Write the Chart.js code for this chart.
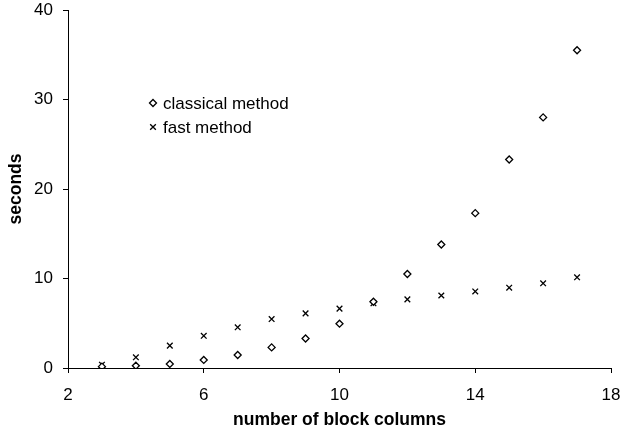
<!DOCTYPE html>
<html>
<head>
<meta charset="utf-8">
<script src="https://cdn.jsdelivr.net/npm/chart.js@4/dist/chart.umd.min.js"></script>
<style>
  html, body { margin: 0; padding: 0; background: #fff; }
  #wrap { width: 620px; height: 432px; }
</style>
</head>
<body>
<div id="wrap"><canvas id="chart" width="620" height="432"></canvas></div>
<script>
// block columns on the x axis
const blockColumns = [3, 4, 5, 6, 7, 8, 9, 10, 11, 12, 13, 14, 15, 16, 17];
// seconds
const classicalSeconds = [0.15, 0.26, 0.45, 0.9, 1.45, 2.3, 3.3, 4.95, 7.4, 10.5, 13.8, 17.3, 23.3, 28.0, 35.5];
const fastSeconds = [0.37, 1.2, 2.5, 3.6, 4.55, 5.47, 6.1, 6.63, 7.23, 7.67, 8.1, 8.55, 8.97, 9.46, 10.13];
const seriesLabels = ['classical method', 'fast method'];
const xTicks = [2, 6, 10, 14, 18];
const yTicks = [0, 10, 20, 30, 40];

const fontFamily = '"Liberation Sans", Arial, sans-serif';

function toPoints(xs, ys) {
  return xs.map((x, i) => ({ x: x, y: ys[i] }));
}

// legend sits inside the plot, like the original
const innerLegend = {
  id: 'innerLegend',
  afterDraw(chart) {
    const ctx = chart.ctx;
    const items = [
      { style: 'rectRot', radius: 3.5, y: 103 },
      { style: 'crossRot', radius: 4, y: 127 },
    ];
    ctx.save();
    ctx.font = '17px ' + fontFamily;
    ctx.textBaseline = 'middle';
    items.forEach((it, i) => {
      ctx.strokeStyle = '#000';
      ctx.fillStyle = '#fff';
      ctx.lineWidth = 1.3;
      Chart.helpers.drawPoint(ctx, { pointStyle: it.style, radius: it.radius, borderWidth: 1.3 }, 153, it.y);
      ctx.fillStyle = '#000';
      ctx.fillText(seriesLabels[i], 163, it.y + 1);
    });
    ctx.restore();
  }
};

new Chart(document.getElementById('chart'), {
  type: 'scatter',
  data: {
    datasets: [
      {
        label: seriesLabels[0],
        data: toPoints(blockColumns, classicalSeconds),
        pointStyle: 'rectRot',
        pointRadius: 3.5,
        borderColor: '#000',
        backgroundColor: '#fff',
        borderWidth: 1.3,
      },
      {
        label: seriesLabels[1],
        data: toPoints(blockColumns, fastSeconds),
        pointStyle: 'crossRot',
        pointRadius: 4,
        borderColor: '#000',
        backgroundColor: '#000',
        borderWidth: 1.3,
      },
    ],
  },
  options: {
    responsive: false,
    animation: false,
    layout: { padding: { top: 10, right: 9, left: 6, bottom: 0 } },
    plugins: {
      legend: { display: false },
      tooltip: { enabled: false },
    },
    scales: {
      x: {
        type: 'linear',
        min: 2,
        max: 18,
        afterBuildTicks(scale) { scale.ticks = xTicks.map(v => ({ value: v })); },
        afterFit(scale) {
          scale.height = 64;
          scale.paddingLeft = 0;
          scale.paddingRight = 0;
        },
        border: { color: '#000', width: 1 },
        grid: { drawOnChartArea: false, drawTicks: true, tickLength: 5, color: '#000' },
        ticks: { color: '#000', padding: 12, font: { family: fontFamily, size: 17 } },
        title: {
          display: true,
          text: 'number of block columns',
          color: '#000',
          font: { family: fontFamily, size: 17.5, weight: 'bold' },
          padding: { top: 4, bottom: 1.5 },
        },
      },
      y: {
        min: 0,
        max: 40,
        afterBuildTicks(scale) { scale.ticks = yTicks.map(v => ({ value: v })); },
        afterFit(scale) {
          scale.width = 62;
          scale.paddingTop = 0;
          scale.paddingBottom = 0;
        },
        border: { color: '#000', width: 1 },
        grid: { drawOnChartArea: false, drawTicks: true, tickLength: 5, color: '#000' },
        ticks: { color: '#000', padding: 10, font: { family: fontFamily, size: 17 } },
        title: {
          display: true,
          text: 'seconds',
          color: '#000',
          font: { family: fontFamily, size: 17.5, weight: 'bold' },
          padding: { top: 0, bottom: 0 },
        },
      },
    },
  },
  plugins: [innerLegend],
});
</script>
</body>
</html>
